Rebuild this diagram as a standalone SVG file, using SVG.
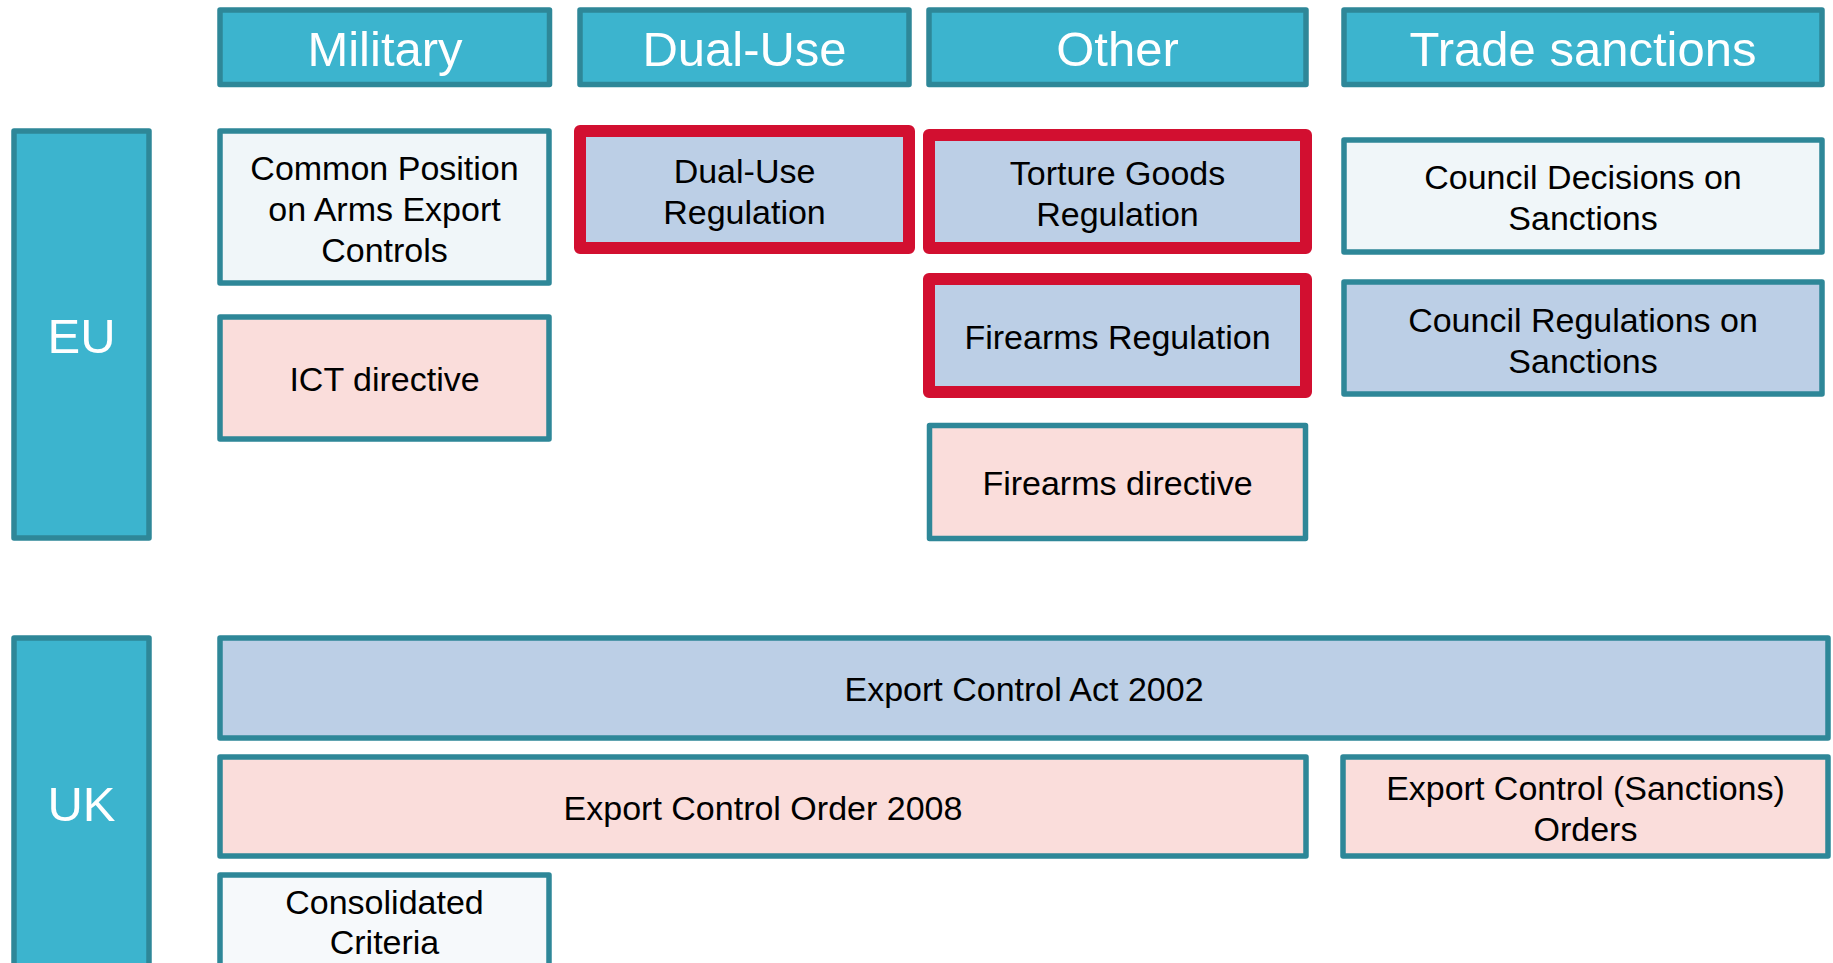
<svg xmlns="http://www.w3.org/2000/svg" width="1833" height="963" viewBox="0 0 1833 963">
<style>
.hdr{fill:#3cb4ce;stroke:#2e8798;stroke-width:5.5;stroke-linejoin:round}
.box{stroke:#2e8798;stroke-width:5.5;stroke-linejoin:round}
.red{fill:#bccfe6;stroke:#d20f30;stroke-width:12;stroke-linejoin:round}
.lt{fill:#f0f6f9}
.lt2{fill:#f6f9fb}
.bl{fill:#bccfe6}
.pk{fill:#fadddb}
.ht{font-family:"Liberation Sans",Arial,sans-serif;font-size:49px;fill:#ffffff;text-anchor:middle}
.t{font-family:"Liberation Sans",Arial,sans-serif;font-size:34px;fill:#000000;text-anchor:middle}
</style>
<rect width="1833" height="963" fill="#ffffff"/>
<g id="connectors"></g>
<g id="hdr-military"><rect class="hdr" x="220" y="10" width="329.5" height="74.5"/><text class="ht" x="385" y="66">Military</text></g>
<g id="hdr-dualuse"><rect class="hdr" x="580" y="10" width="329" height="74.5"/><text class="ht" x="744.5" y="66">Dual-Use</text></g>
<g id="hdr-other"><rect class="hdr" x="929" y="10" width="377" height="74.5"/><text class="ht" x="1117.5" y="66">Other</text></g>
<g id="hdr-trade"><rect class="hdr" x="1344" y="10" width="478" height="74.5"/><text class="ht" x="1583" y="66">Trade sanctions</text></g>
<g id="eu"><rect class="hdr" x="14" y="131" width="135" height="407"/><text class="ht" x="81.5" y="353">EU</text></g>
<g id="uk"><rect class="hdr" x="14" y="638" width="135" height="330"/><text class="ht" x="81.5" y="821">UK</text></g>
<g id="common-position"><rect class="box lt" x="220" y="131" width="329" height="152"/><text class="t" x="384.5" y="179.5">Common Position</text><text class="t" x="384.5" y="220.5">on Arms Export</text><text class="t" x="384.5" y="261.5">Controls</text></g>
<g id="ict"><rect class="box pk" x="220" y="317" width="329" height="122"/><text class="t" x="384.5" y="391">ICT directive</text></g>
<g id="dualuse-reg"><rect class="red" x="580" y="131" width="329" height="117"/><text class="t" x="744.5" y="182.5">Dual-Use</text><text class="t" x="744.5" y="223.5">Regulation</text></g>
<g id="torture"><rect class="red" x="929" y="135" width="377" height="113"/><text class="t" x="1117.5" y="184.5">Torture Goods</text><text class="t" x="1117.5" y="225.5">Regulation</text></g>
<g id="firearms-reg"><rect class="red" x="929" y="279" width="377" height="113"/><text class="t" x="1117.5" y="349">Firearms Regulation</text></g>
<g id="firearms-dir"><rect class="box pk" x="929.5" y="425.5" width="376" height="113"/><text class="t" x="1117.5" y="495">Firearms directive</text></g>
<g id="council-decisions"><rect class="box lt" x="1344" y="140" width="478" height="112"/><text class="t" x="1583" y="189">Council Decisions on</text><text class="t" x="1583" y="230">Sanctions</text></g>
<g id="council-regs"><rect class="box bl" x="1344" y="282" width="478" height="112"/><text class="t" x="1583" y="332">Council Regulations on</text><text class="t" x="1583" y="373">Sanctions</text></g>
<g id="eca"><rect class="box bl" x="220" y="638" width="1608" height="100"/><text class="t" x="1024" y="701">Export Control Act 2002</text></g>
<g id="eco"><rect class="box pk" x="220" y="757" width="1086" height="99"/><text class="t" x="763" y="820">Export Control Order 2008</text></g>
<g id="eco-sanctions"><rect class="box pk" x="1343" y="757" width="485" height="99"/><text class="t" x="1585.5" y="800">Export Control (Sanctions)</text><text class="t" x="1585.5" y="841">Orders</text></g>
<g id="consolidated"><rect class="box lt2" x="220" y="875" width="329" height="120"/><text class="t" x="384.5" y="914">Consolidated</text><text class="t" x="384.5" y="954">Criteria</text></g>
</svg>
